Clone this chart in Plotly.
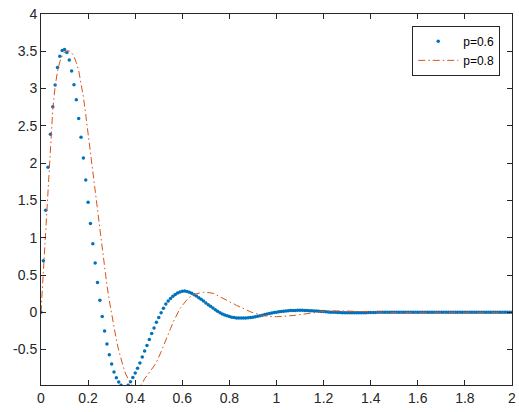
import plotly.graph_objects as go

# time grid (step 0.01 from 0 to 2)
t = [round(i * 0.01, 2) for i in range(201)]

p06 = [
    0.0, 0.69, 1.37, 1.944, 2.386, 2.756, 3.047, 3.284, 3.432, 3.512,
    3.525, 3.485, 3.382, 3.235, 3.051, 2.85, 2.60, 2.346, 2.068, 1.773,
    1.474, 1.19, 0.92, 0.66, 0.40, 0.16, -0.055, -0.25, -0.425, -0.568,
    -0.693, -0.80, -0.877, -0.934, -0.979, -1.005, -1.005, -0.979, -0.93, -0.875,
    -0.815, -0.75, -0.68, -0.60, -0.52, -0.445, -0.365, -0.285, -0.21, -0.135,
    -0.07, -0.005, 0.055, 0.11, 0.15, 0.185, 0.215, 0.24, 0.259, 0.272,
    0.281, 0.284, 0.279, 0.270, 0.255, 0.236, 0.218, 0.196, 0.174, 0.151,
    0.125, 0.102, 0.080, 0.058, 0.035, 0.013, -0.005, -0.022, -0.036, -0.048,
    -0.058, -0.066, -0.071, -0.075, -0.077, -0.078, -0.078, -0.077, -0.074, -0.070,
    -0.065, -0.059, -0.052, -0.045, -0.038, -0.031, -0.024, -0.017, -0.010, -0.004,
    0.002, 0.007, 0.011, 0.015, 0.018, 0.021, 0.023, 0.024, 0.025, 0.026,
    0.026, 0.026, 0.025, 0.024, 0.022, 0.020, 0.018, 0.016, 0.013, 0.011,
    0.009, 0.006, 0.004, 0.002, 0.000, -0.001, -0.003, -0.004, -0.005, -0.006,
    -0.006, -0.007, -0.007, -0.007, -0.007, -0.006, -0.006, -0.005, -0.005, -0.004,
    -0.003, -0.002, -0.002, -0.001, 0.000, 0.000, 0.001, 0.001, 0.002, 0.002,
    0.002, 0.002, 0.002, 0.002, 0.002, 0.001, 0.001, 0.001, 0.001, 0.000,
    0.000, 0.000, 0.000, 0.000, 0.000, 0.000, 0.000, 0.000, 0.000, 0.000,
    0.000, 0.000, 0.000, 0.000, 0.000, 0.000, 0.000, 0.000, 0.000, 0.000,
    0.000, 0.000, 0.000, 0.000, 0.000, 0.000, 0.000, 0.000, 0.000, 0.000,
    0.000, 0.000, 0.000, 0.000, 0.000, 0.000, 0.000, 0.000, 0.000, 0.000,
    0.000,
]

p08 = [
    0.0, 0.55, 1.15, 1.66, 2.19, 2.72, 3.03, 3.23, 3.36, 3.44,
    3.49, 3.505, 3.505, 3.48, 3.43, 3.35, 3.24, 3.08, 2.89, 2.65,
    2.40, 2.14, 1.87, 1.60, 1.33, 1.07, 0.82, 0.58, 0.36, 0.16,
    -0.03, -0.21, -0.37, -0.51, -0.63, -0.74, -0.83, -0.90, -0.95, -0.985,
    -1.0, -1.0, -0.985, -0.955, -0.89, -0.85, -0.81, -0.77, -0.72, -0.67,
    -0.61, -0.53, -0.45, -0.38, -0.30, -0.22, -0.14, -0.07, 0.0, 0.05,
    0.09, 0.135, 0.17, 0.20, 0.222, 0.238, 0.25, 0.258, 0.264, 0.268,
    0.27, 0.268, 0.262, 0.255, 0.24, 0.225, 0.21, 0.195, 0.178, 0.16,
    0.145, 0.127, 0.11, 0.093, 0.077, 0.061, 0.046, 0.032, 0.019, 0.006,
    -0.005, -0.016, -0.026, -0.035, -0.042, -0.048, -0.053, -0.056, -0.058, -0.059,
    -0.059, -0.058, -0.057, -0.055, -0.053, -0.051, -0.048, -0.044, -0.040, -0.035,
    -0.030, -0.025, -0.020, -0.015, -0.010, -0.005, -0.001, 0.003, 0.006, 0.009,
    0.012, 0.014, 0.016, 0.017, 0.018, 0.019, 0.019, 0.019, 0.018, 0.017,
    0.016, 0.014, 0.012, 0.010, 0.007, 0.005, 0.003, 0.001, -0.001, -0.002,
    -0.003, -0.004, -0.004, -0.005, -0.005, -0.005, -0.005, -0.004, -0.004, -0.004,
    -0.003, -0.003, -0.002, -0.002, -0.001, -0.001, 0.000, 0.000, 0.000, 0.001,
    0.001, 0.001, 0.001, 0.001, 0.001, 0.001, 0.000, 0.000, 0.000, 0.000,
    0.000, 0.000, 0.000, 0.000, 0.000, 0.000, 0.000, 0.000, 0.000, 0.000,
    0.000, 0.000, 0.000, 0.000, 0.000, 0.000, 0.000, 0.000, 0.000, 0.000,
    0.000, 0.000, 0.000, 0.000, 0.000, 0.000, 0.000, 0.000, 0.000, 0.000,
    0.000,
]

x_ticks = [0, 0.2, 0.4, 0.6, 0.8, 1, 1.2, 1.4, 1.6, 1.8, 2]
x_labels = ["0", "0.2", "0.4", "0.6", "0.8", "1", "1.2", "1.4", "1.6", "1.8", "2"]
y_ticks = [-0.5, 0, 0.5, 1, 1.5, 2, 2.5, 3, 3.5, 4]
y_labels = ["-0.5", "0", "0.5", "1", "1.5", "2", "2.5", "3", "3.5", "4"]

FONT = "Liberation Sans, Arial, Helvetica, sans-serif"

fig = go.Figure()
fig.add_trace(go.Scatter(
    x=t, y=p06, mode="markers", name="p=0.6",
    marker=dict(color="#0072BD", size=3.5, line=dict(width=0)),
))
fig.add_trace(go.Scatter(
    x=t, y=p08, mode="lines", name="p=0.8",
    line=dict(color="#D95319", width=1, dash="7px,3px,1.5px,3px"),
))

axis_common = dict(
    showgrid=False, zeroline=False, showline=True, linecolor="#262626",
    linewidth=1, mirror="ticks", ticks="inside", ticklen=5,
    tickcolor="#262626", tickfont=dict(family=FONT, size=14, color="#262626"),
    automargin=False, ticklabeloverflow="allow",
)

fig.update_layout(
    width=519, height=412,
    margin=dict(l=41, r=7, t=14, b=27),
    paper_bgcolor="white", plot_bgcolor="white",
    font=dict(family=FONT, color="#262626"),
    showlegend=True,
    legend=dict(
        x=0.975, y=0.968, xanchor="right", yanchor="top",
        bgcolor="white", bordercolor="#262626", borderwidth=1,
        font=dict(family=FONT, size=12, color="#000000"),
        tracegroupgap=0, itemwidth=40,
    ),
    xaxis=dict(range=[0, 2], tickvals=x_ticks, ticktext=x_labels, **axis_common),
    yaxis=dict(range=[-0.975, 4], tickvals=y_ticks, ticktext=y_labels, **axis_common),
)

fig.write_html(
    "out.html",
    config={"displayModeBar": False},
    post_script="document.body.style.margin='0';document.body.style.overflow='hidden';",
)
